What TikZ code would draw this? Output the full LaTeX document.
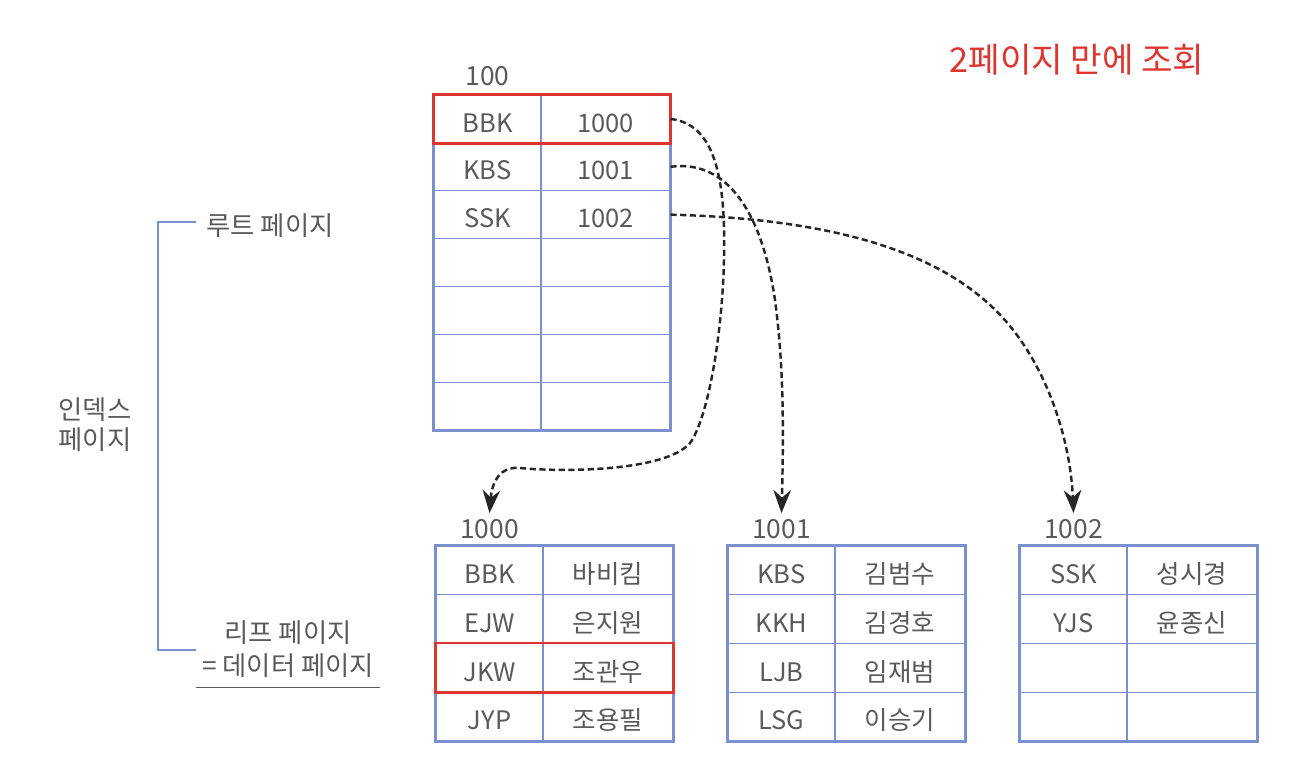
\documentclass[tikz,border=0pt]{standalone}
\usepackage{fontspec}
\setmainfont{Noto Sans CJK KR}
\usepackage{xcolor}
\usetikzlibrary{arrows.meta,positioning,fit}
\definecolor{gridblue}{HTML}{7B91CF}
\definecolor{inkgray}{HTML}{5A5A5A}
\definecolor{hotred}{HTML}{DD3530}
\tikzset{
  keycell/.style={
    rectangle, draw=gridblue, line width=0.6pt, inner sep=0pt,
    minimum width=2.14cm, minimum height=0.957cm,
    text height=15pt, text depth=0pt,
    font=\fontsize{14.5}{16}\selectfont, text=inkgray
  },
  valcell/.style={keycell, minimum width=2.58cm},
  leafkey/.style={keycell, minimum height=0.975cm},
  leafval/.style={leafkey, minimum width=2.6cm},
  tableframe/.style={draw=gridblue, line width=1.3pt, inner sep=0pt},
  hitbox/.style={draw=hotred, line width=1.6pt, inner sep=0pt},
  pagelabel/.style={font=\fontsize{15}{17}\selectfont, text=inkgray},
  ptrarrow/.style={
    -{Stealth[length=4.6mm, width=3.5mm, inset=1.5mm]}, line width=1.4pt,
    dash pattern=on 3.5pt off 2pt, color=black!85
  },
  bracket/.style={draw=gridblue, line width=0.9pt},
}

\begin{document}
\begin{tikzpicture}[x=0.02cm, y=-0.02cm]
  \useasboundingbox[fill=white] (0,0) rectangle (1300,760);

  % root page
  \foreach \k/\key/\val in {1/BBK/1000,2/KBS/1001,3/SSK/1002,4//,5//,6//,7//} {
    \node[keycell] (root-k\k) at (487.5, {95+47.86*(\k-0.5)}) {\key};
    \node[valcell] (root-v\k) at (605.5, {95+47.86*(\k-0.5)}) {\val};
  }
  \node[tableframe, fit=(root-k1)(root-v7)] (root) {};
  \node[pagelabel, above=0.04cm of root-k1] (id100) {100};

  % leaf pages
  \foreach \t/\x/\k/\key/\val in {
      1000/436/1/BBK/바비킴, 1000/436/2/EJW/은지원, 1000/436/3/JKW/조관우, 1000/436/4/JYP/조용필,
      1001/728/1/KBS/김범수, 1001/728/2/KKH/김경호, 1001/728/3/LJB/임재범, 1001/728/4/LSG/이승기,
      1002/1020/1/SSK/성시경, 1002/1020/2/YJS/윤종신, 1002/1020/3//, 1002/1020/4//} {
    \node[leafkey] (leaf\t-k\k) at ({\x+53.5}, {546+48.75*(\k-0.5)}) {\key};
    \node[leafval] (leaf\t-v\k) at ({\x+172}, {546+48.75*(\k-0.5)}) {\val};
  }
  \foreach \t in {1000,1001,1002} {
    \node[tableframe, fit=(leaf\t-k1)(leaf\t-v4)] (leaf\t) {};
    \node[pagelabel, above=0.01cm of leaf\t-k1.north] (id\t) {\t};
  }

  % searched rows
  \node[hitbox, fit=(root-k1)(root-v1)] (hit-root) {};
  \node[hitbox, fit=(leaf1000-k3)(leaf1000-v3)] (hit-leaf) {};

  % pointers
  \draw[ptrarrow] (root-v1.east) .. controls (714,124) and (726,175) .. (724,260)
    .. controls (722,340) and (707,420) .. (690,443)
    .. controls (665,472) and (560,472) .. (520,468)
    .. controls (500,466) and (492,482) .. (id1000.north);
  \draw[ptrarrow] (root-v2.east) .. controls (720,160) and (760,200) .. (775,300)
    .. controls (783,360) and (784,420) .. (id1001.north);
  \draw[ptrarrow] (root-v3.east) .. controls (800,218) and (920,240) .. (990,305)
    .. controls (1040,350) and (1070,430) .. (id1002.north);

  % side notes
  \node[pagelabel] (rootnote) at (270,226) {루트 페이지};
  \node[pagelabel, align=center] (indexnote) at (95,425) {인덱스\\페이지};
  \node[pagelabel, align=center, font=\fontsize{15}{19}\selectfont] (leafnote) at (288,649) {리프 페이지\\= 데이터 페이지};
  \coordinate (brk-top) at (196,222);
  \coordinate (brk-bot) at (196,650);
  \draw[bracket] (brk-top) -- (158,222) -- (158,650) -- (brk-bot);
  \draw[inkgray, line width=0.8pt] ([yshift=-2pt]leafnote.south west) -- ([yshift=-2pt]leafnote.south east);

  \node[font=\fontsize{19.5}{22}\selectfont, text=hotred] (title) at (1077,60) {2페이지 만에 조회};
\end{tikzpicture}
\end{document}
